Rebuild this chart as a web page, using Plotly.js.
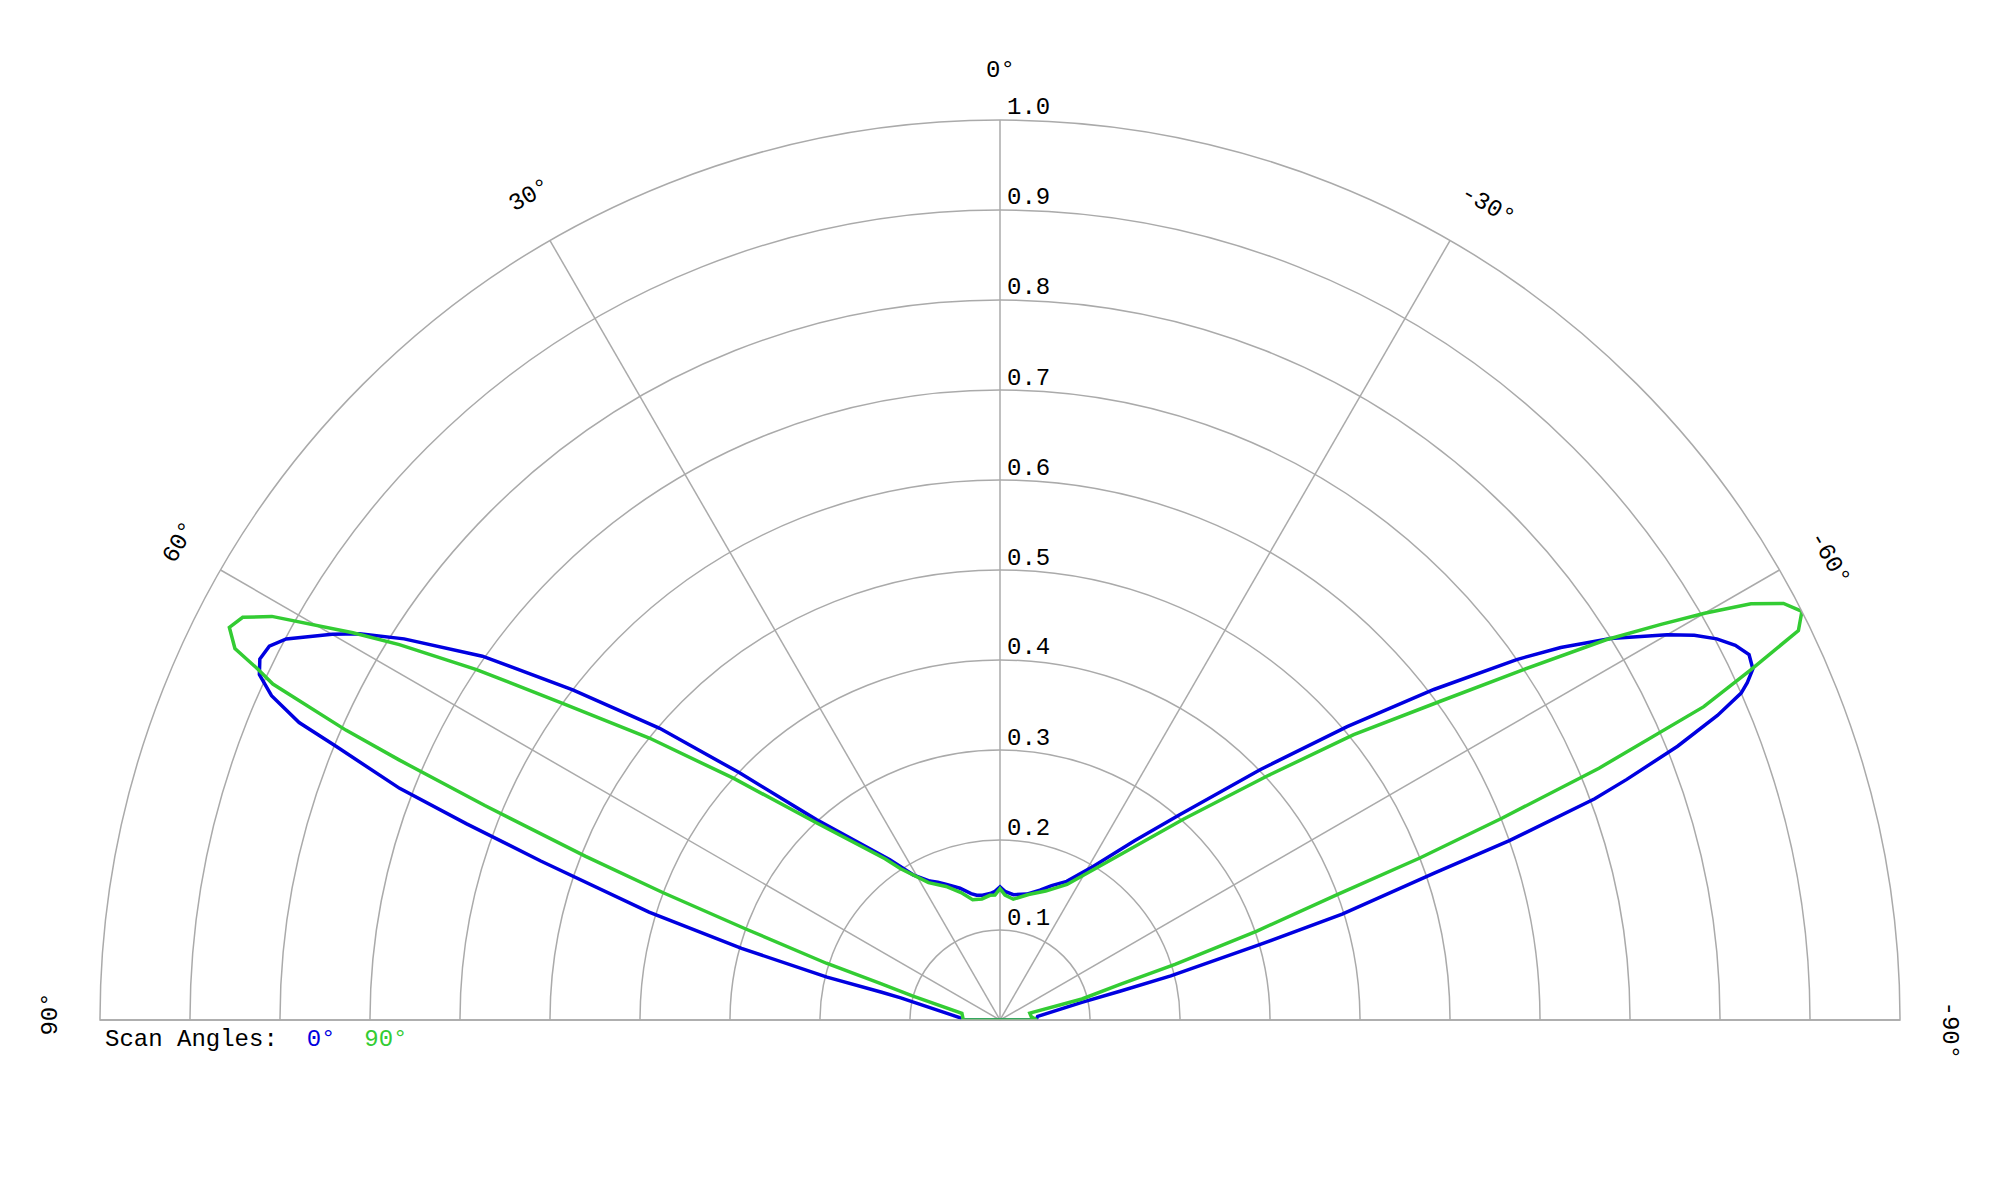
<!DOCTYPE html>
<html>
<head>
<meta charset="utf-8">
<script src="https://cdn.plot.ly/plotly-3.0.1.min.js"></script>
<style>html,body{margin:0;padding:0;background:#fff;}#chart{width:2000px;height:1200px;}</style>
</head>
<body>
<div id="chart"></div>
<script>
// ---- Data (theta in degrees, r normalized) ----
const blueTheta = [-90, -84.5, -77.8, -76.5, -75.5, -73.8, -72.8, -71.3, -70.6, -69.6, -69.0, -68.0, -67.0, -66.2, -65.7, -65.0, -64.0, -63.0, -62.0, -61.0, -60.0, -58.0, -56.4, -55.1, -52.7, -49.8, -46.1, -41.2, -36.9, -31.3, -25.7, -21.0, -17.1, -12.0, -6.1, -2.2, 0, 2.2, 4.5, 8.0, 10.6, 12.9, 16.9, 21.5, 24.3, 26.8, 30.9, 34.5, 42.5, 46.5, 49.4, 52.3, 54.9, 57.4, 58.9, 60.0, 61.9, 62.9, 64.0, 65.0, 66.0, 67.0, 67.6, 68.9, 69.8, 70.9, 72.9, 74.5, 76.1, 76.8, 77.4, 86.5, 90];
const blueR =     [0.040, 0.042, 0.093, 0.137, 0.196, 0.302, 0.398, 0.510, 0.600, 0.705, 0.746, 0.812, 0.866, 0.900, 0.911, 0.923, 0.926, 0.917, 0.902, 0.882, 0.856, 0.800, 0.748, 0.700, 0.606, 0.505, 0.401, 0.303, 0.249, 0.200, 0.171, 0.160, 0.151, 0.143, 0.140, 0.143, 0.148, 0.143, 0.141, 0.140, 0.141, 0.144, 0.153, 0.162, 0.168, 0.173, 0.188, 0.216, 0.302, 0.399, 0.498, 0.600, 0.703, 0.786, 0.831, 0.857, 0.899, 0.912, 0.915, 0.908, 0.886, 0.846, 0.798, 0.715, 0.632, 0.540, 0.408, 0.298, 0.198, 0.135, 0.113, 0.045, 0.040];

const greenTheta = [-90, -84, -77, -75.6, -73.5, -72.4, -70.9, -69.6, -68.9, -68.1, -67.2, -66.0, -65.0, -64.0, -63.0, -62.0, -61.0, -60.0, -59.1, -57.9, -56.2, -54.1, -51.1, -47.6, -42.4, -36.0, -31.9, -26.3, -19.5, -12.8, -6.3, -2.3, 0, 2.3, 4.6, 8.5, 12.8, 17.0, 22.0, 27.5, 33.3, 35.5, 43.0, 47.8, 51.2, 54.1, 56.2, 58.0, 59.1, 61.0, 62.0, 63.0, 64.1, 64.7, 65.2, 66.1, 66.6, 67.4, 68.45, 69.3, 70.3, 71.9, 73.0, 74.6, 80.0, 88.5, 90];
const greenR =     [0.041, 0.035, 0.034, 0.094, 0.140, 0.204, 0.302, 0.401, 0.500, 0.601, 0.722, 0.856, 0.920, 0.987, 1.000, 0.986, 0.954, 0.904, 0.856, 0.795, 0.700, 0.604, 0.505, 0.402, 0.302, 0.227, 0.197, 0.168, 0.152, 0.143, 0.135, 0.139, 0.146, 0.139, 0.139, 0.136, 0.137, 0.148, 0.160, 0.172, 0.201, 0.220, 0.300, 0.400, 0.500, 0.600, 0.700, 0.787, 0.838, 0.925, 0.953, 0.961, 0.945, 0.912, 0.890, 0.795, 0.727, 0.620, 0.495, 0.400, 0.300, 0.203, 0.140, 0.101, 0.043, 0.041, 0.041];

const radialTicks = [0.1, 0.2, 0.3, 0.4, 0.5, 0.6, 0.7, 0.8, 0.9, 1.0];
const angularTicks = [90, 60, 30, 0, -30, -60, -90];
const seriesNames = ['0°', '90°'];
const legendTitle = 'Scan Angles:';

// ---- Style / layout constants ----
const BLUE = '#0000e0';
const GREEN = '#33cc33';
const GRID = '#aaaaaa';
const FONT = 'Liberation Mono, Courier New, monospace';
const FS = 24;
const DOM_X = [0.05, 0.95];
const DOM_Y = [0.15, 0.90];
const LABEL_R = 1.055;                 // radial position of angular labels (in radius units)
const labelNudge = {90: -0.36, 60: -0.2, 30: -0.3, 0: 0, '-30': -0.9, '-60': -0.9, '-90': -0.66}; // degrees

function closed(a) { return a.concat([a[0]]); }

const traces = [
  {type: 'scatterpolar', mode: 'lines', name: seriesNames[0],
   theta: closed(blueTheta), r: closed(blueR),
   line: {color: BLUE, width: 3.5}, hoverinfo: 'skip'},
  {type: 'scatterpolar', mode: 'lines', name: seriesNames[1],
   theta: closed(greenTheta), r: closed(greenR),
   line: {color: GREEN, width: 3.5}, hoverinfo: 'skip'}
];

// geometry of the polar subplot in paper units (domain is 2:1, so radius = half width)
const cxp = (DOM_X[0] + DOM_X[1]) / 2;
const rxp = (DOM_X[1] - DOM_X[0]) / 2;
const cyp = DOM_Y[0];
const ryp = DOM_Y[1] - DOM_Y[0];

// angular tick labels, rotated tangentially
const annotations = angularTicks.map(t => {
  const a = (t + labelNudge[t]) * Math.PI / 180;
  return {
    xref: 'paper', yref: 'paper',
    x: cxp - rxp * LABEL_R * Math.sin(a),
    y: cyp + ryp * LABEL_R * Math.cos(a),
    xanchor: 'center', yanchor: 'middle',
    text: t + '°', showarrow: false, textangle: -t,
    font: {family: FONT, size: FS, color: '#000'}
  };
});

// radial tick labels along the 0° spoke, just above each ring
radialTicks.forEach(v => {
  annotations.push({
    xref: 'paper', yref: 'paper',
    x: cxp, y: cyp + ryp * v,
    xanchor: 'left', yanchor: 'middle', xshift: 5, yshift: 12,
    text: v.toFixed(1), showarrow: false,
    font: {family: FONT, size: FS, color: '#000'}
  });
});

const sp = '\u00a0\u00a0';
annotations.push({
  xref: 'paper', yref: 'paper', x: 0.0515, y: 0.1335,
  xanchor: 'left', yanchor: 'middle', showarrow: false,
  text: legendTitle + sp + '<span style="color:' + BLUE + '">' + seriesNames[0] + '</span>' + sp +
        '<span style="color:' + GREEN + '">' + seriesNames[1] + '</span>',
  font: {family: FONT, size: FS, color: '#000'}
});

const layout = {
  width: 2000, height: 1200,
  margin: {l: 0, r: 0, t: 0, b: 0},
  paper_bgcolor: '#fff',
  showlegend: false,
  polar: {
    domain: {x: DOM_X, y: DOM_Y},
    sector: [0, 180],
    bgcolor: '#fff',
    angularaxis: {
      rotation: 90, direction: 'counterclockwise',
      tickmode: 'array', tickvals: angularTicks,
      showticklabels: false, ticks: '',
      showgrid: true, gridcolor: GRID, gridwidth: 1.5,
      showline: true, linecolor: GRID, linewidth: 1.5
    },
    radialaxis: {
      range: [0, 1], tickmode: 'array', tickvals: radialTicks,
      showticklabels: false, ticks: '', showline: false,
      showgrid: true, gridcolor: GRID, gridwidth: 1.5, angle: 90
    }
  },
  annotations: annotations
};

Plotly.newPlot('chart', traces, layout, {displayModeBar: false, staticPlot: true});
</script>
</body>
</html>
